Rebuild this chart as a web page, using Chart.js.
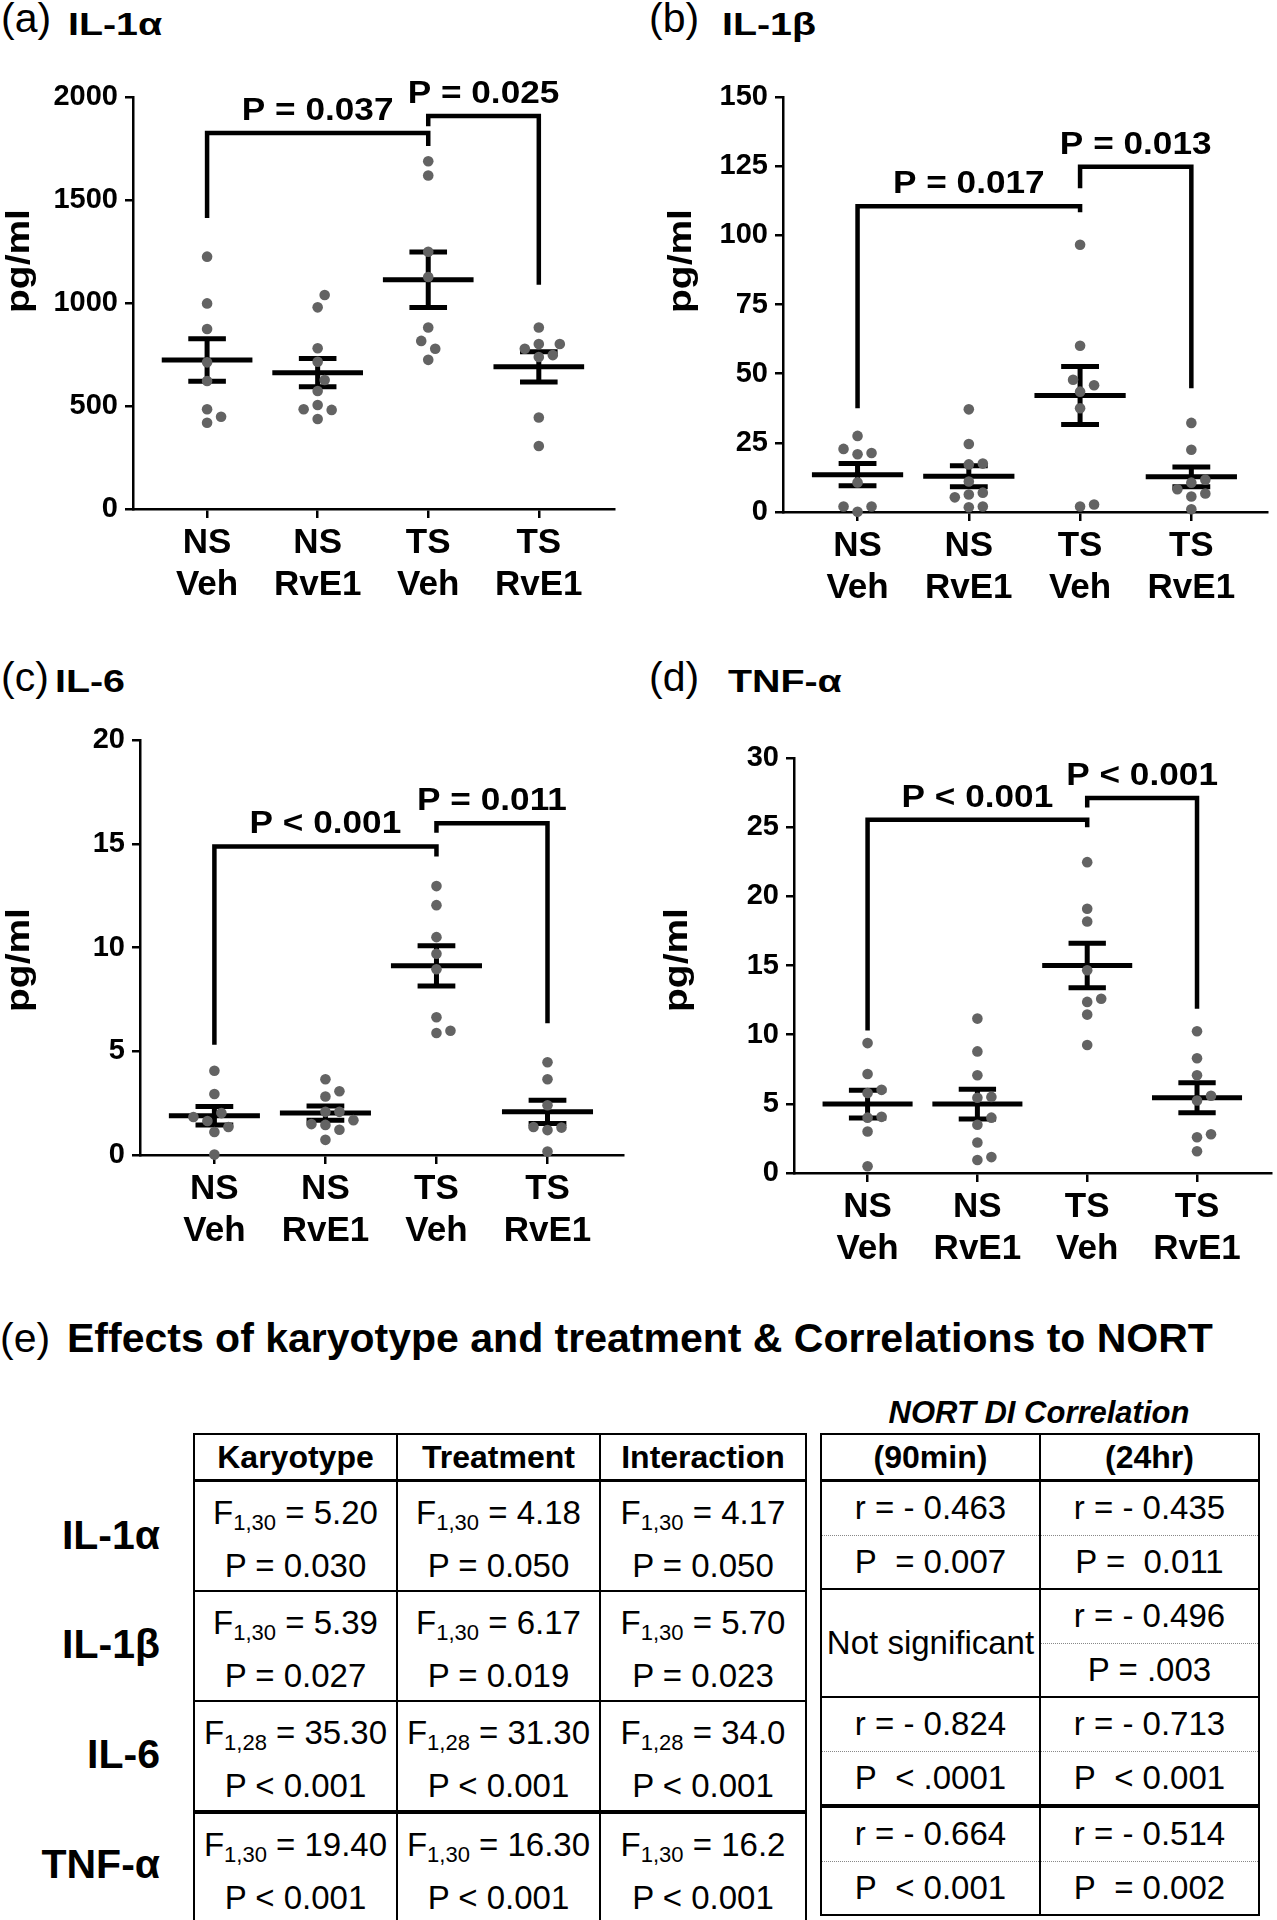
<!DOCTYPE html>
<html>
<head>
<meta charset="utf-8">
<script src="https://cdn.jsdelivr.net/npm/chart.js@4.4.1/dist/chart.umd.min.js"></script>
<style>
  body { margin: 0; width: 1277px; height: 1920px; position: relative; background: #fff; overflow: hidden;
         font-family: 'Liberation Sans', Arial, Helvetica, sans-serif; color: #000; }
  canvas { position: absolute; }
  .t { position: absolute; white-space: nowrap; line-height: 1; transform-origin: 0 0; }
  .lab { font-size: 41px; }
  .name { font-size: 32px; font-weight: bold; transform: scaleX(1.23); }
  .rl { position: absolute; right: 1117px; white-space: nowrap; line-height: 1; font-size: 41px; font-weight: bold; }
  table { position: absolute; border-collapse: collapse; border: 2.5px solid #000; }
  th, td { border: 2px solid #000; padding: 0; text-align: center; white-space: nowrap; }
  th { font-size: 32px; font-weight: bold; height: 44px; border-bottom: 3px solid #000; }
  #tl td { vertical-align: top; font-size: 33px; height: 105px; }
  #tl td div { line-height: 49px; }
  #tl td div:first-child { padding-top: 6px; }
  .sb { font-size: 22px; position: relative; top: 6px; }
  #tr td { font-size: 33px; height: 52.5px; line-height: 52px; vertical-align: middle; }
  #tr tr.u td { border-bottom: 1px dotted #888; }
  #tr tr.l td { border-top: 1px dotted #888; }
  #tr td.ns { border-bottom: 2px solid #000; }
  tr.thick td { border-top: 4px solid #000 !important; }
</style>
</head>
<body>

<!-- panel titles -->
<div class="t lab" style="left:1px; top:-2px;">(a)</div>
<div class="t name" style="left:68px; top:8px;">IL-1α</div>
<div class="t lab" style="left:649px; top:-2px;">(b)</div>
<div class="t name" style="left:722px; top:8px;">IL-1β</div>
<div class="t lab" style="left:1px; top:657px;">(c)</div>
<div class="t name" style="left:55px; top:665px;">IL-6</div>
<div class="t lab" style="left:649px; top:657px;">(d)</div>
<div class="t name" style="left:728px; top:665px;">TNF-α</div>

<canvas id="chartA" width="640" height="640" style="left:0; top:0;"></canvas>
<canvas id="chartB" width="637" height="640" style="left:640px; top:0;"></canvas>
<canvas id="chartC" width="640" height="640" style="left:0; top:650px;"></canvas>
<canvas id="chartD" width="637" height="640" style="left:640px; top:650px;"></canvas>

<!-- (e) table -->
<div class="t" style="left:0; top:1318px; font-size:41px;">(e)</div>
<div class="t" style="left:67px; top:1318px; font-size:41px; font-weight:bold;">Effects of karyotype and treatment &amp; Correlations to NORT</div>
<div class="t" style="left:820px; width:438px; text-align:center; top:1397px; font-size:31px; font-weight:bold; font-style:italic;">NORT DI Correlation</div>

<div class="rl" style="top:1515px;">IL-1α</div>
<div class="rl" style="top:1624px;">IL-1β</div>
<div class="rl" style="top:1734px;">IL-6</div>
<div class="rl" style="top:1844px;">TNF-α</div>

<table id="tl" style="left:193px; top:1433px;">
  <colgroup><col style="width:203px"><col style="width:203px"><col style="width:206px"></colgroup>
  <tr><th>Karyotype</th><th>Treatment</th><th>Interaction</th></tr>
  <tr>
    <td><div>F<span class="sb">1,30</span> = 5.20</div><div>P = 0.030</div></td>
    <td><div>F<span class="sb">1,30</span> = 4.18</div><div>P = 0.050</div></td>
    <td><div>F<span class="sb">1,30</span> = 4.17</div><div>P = 0.050</div></td>
  </tr>
  <tr>
    <td><div>F<span class="sb">1,30</span> = 5.39</div><div>P = 0.027</div></td>
    <td><div>F<span class="sb">1,30</span> = 6.17</div><div>P = 0.019</div></td>
    <td><div>F<span class="sb">1,30</span> = 5.70</div><div>P = 0.023</div></td>
  </tr>
  <tr>
    <td><div>F<span class="sb">1,28</span> = 35.30</div><div>P &lt; 0.001</div></td>
    <td><div>F<span class="sb">1,28</span> = 31.30</div><div>P &lt; 0.001</div></td>
    <td><div>F<span class="sb">1,28</span> = 34.0</div><div>P &lt; 0.001</div></td>
  </tr>
  <tr class="thick">
    <td><div>F<span class="sb">1,30</span> = 19.40</div><div>P &lt; 0.001</div></td>
    <td><div>F<span class="sb">1,30</span> = 16.30</div><div>P &lt; 0.001</div></td>
    <td><div>F<span class="sb">1,30</span> = 16.2</div><div>P &lt; 0.001</div></td>
  </tr>
</table>

<table id="tr" style="left:820px; top:1433px;">
  <colgroup><col style="width:219px"><col style="width:219px"></colgroup>
  <tr><th>(90min)</th><th>(24hr)</th></tr>
  <tr class="u"><td>r = - 0.463</td><td>r = - 0.435</td></tr>
  <tr class="l"><td>P&nbsp; = 0.007</td><td>P =&nbsp; 0.011</td></tr>
  <tr class="u"><td rowspan="2" class="ns">Not significant</td><td>r = - 0.496</td></tr>
  <tr class="l"><td>P = .003</td></tr>
  <tr class="u"><td>r = - 0.824</td><td>r = - 0.713</td></tr>
  <tr class="l"><td>P&nbsp; &lt; .0001</td><td>P&nbsp; &lt; 0.001</td></tr>
  <tr class="u thick"><td>r = - 0.664</td><td>r = - 0.514</td></tr>
  <tr class="l"><td>P&nbsp; &lt; 0.001</td><td>P&nbsp; = 0.002</td></tr>
</table>

<script>
// Group labels on the x-axis
const groupLabels = [['NS', 'Veh'], ['NS', 'RvE1'], ['TS', 'Veh'], ['TS', 'RvE1']];
// Brackets compare NS Veh vs TS Veh, then TS Veh vs TS RvE1
const bracketPairs = [[1, 3], [3, 4]];

// (a) IL-1α, pg/ml
const il1aNSVeh = [1225, 998, 874, 712, 621, 484, 448, 419];
const il1aNSRvE1 = [1039, 979, 780, 715, 626, 573, 505, 484, 481, 437];
const il1aTSVeh = [1688, 1619, 1249, 1126, 881, 816, 778, 724];
const il1aTSRvE1 = [881, 801, 801, 778, 747, 738, 444, 306];
const il1aMean = [723, 662, 1113, 690];
const il1aSem = [103, 68, 135, 73];
const il1aTicks = [0, 500, 1000, 1500, 2000];
const il1aP = ['P = 0.037', 'P = 0.025'];
const il1aBracketTop = [1825, 1908];
const il1aBracketLegs = [[1413, 1762], [1858, 1088]];

// (b) IL-1β, pg/ml
const il1bNSVeh = [27.5, 22.8, 21.3, 20.9, 10.7, 2.0, 2.0, 0.1];
const il1bNSRvE1 = [37.1, 24.6, 17.5, 17.2, 11.0, 7.0, 6.3, 5.3, 2.0, 1.7];
const il1bTSVeh = [96.6, 60.1, 47.8, 45.8, 43.5, 37.5, 2.7, 2.0];
const il1bTSRvE1 = [32.2, 22.5, 11.7, 10.6, 8.2, 6.7, 5.6, 1.0];
const il1bMean = [13.5, 12.9, 42.1, 12.7];
const il1bSem = [4.0, 3.8, 10.5, 3.6];
const il1bTicks = [0, 25, 50, 75, 100, 125, 150];
const il1bP = ['P = 0.017', 'P = 0.013'];
const il1bBracketTop = [110.5, 124.8];
const il1bBracketLegs = [[37.5, 108.3], [117, 44.7]];

// (c) IL-6, pg/ml
const il6NSVeh = [4.06, 2.94, 2.02, 1.83, 1.64, 1.35, 1.11, 0.02];
const il6NSRvE1 = [3.65, 3.07, 2.82, 2.08, 2.08, 1.68, 1.49, 1.45, 1.22, 0.73];
const il6TSVeh = [12.96, 12.04, 10.5, 9.7, 8.95, 6.64, 5.99, 5.88];
const il6TSRvE1 = [4.47, 3.65, 2.4, 1.35, 1.32, 1.2, 0.17];
const il6Mean = [1.89, 2.02, 9.12, 2.08];
const il6Sem = [0.45, 0.34, 0.97, 0.56];
const il6Ticks = [0, 5, 10, 15, 20];
const il6P = ['P < 0.001', 'P = 0.011'];
const il6BracketTop = [14.87, 15.99];
const il6BracketLegs = [[5.31, 14.39], [15.53, 6.35]];

// (d) TNF-α, pg/ml
const tnfNSVeh = [9.39, 7.16, 6.01, 5.78, 4.06, 4.0, 3.0, 0.49];
const tnfNSRvE1 = [11.16, 8.79, 7.07, 5.5, 5.44, 4.0, 3.49, 2.2, 1.15, 0.94];
const tnfTSVeh = [22.47, 19.1, 18.18, 14.66, 12.6, 12.37, 11.45, 9.25];
const tnfTSRvE1 = [10.25, 8.3, 7.07, 5.58, 5.24, 2.8, 2.58, 1.57];
const tnfMean = [4.98, 4.98, 15.0, 5.44];
const tnfSem = [1.0, 1.07, 1.6, 1.09];
const tnfTicks = [0, 5, 10, 15, 20, 25, 30];
const tnfP = ['P < 0.001', 'P < 0.001'];
const tnfBracketTop = [25.53, 27.1];
const tnfBracketLegs = [[10.3, 24.99], [26.42, 11.88]];

Chart.defaults.font.family = "'Liberation Sans', Arial, Helvetica, sans-serif";
Chart.defaults.color = '#000';

// Spread points with close values sideways (pixel based beeswarm)
function swarmOffsets(values, toPy, step, minDist) {
    const order = values.map((v, i) => i).sort((a, b) => values[a] - values[b]);
    const placed = [];
    const off = new Array(values.length).fill(0);
    order.forEach(i => {
        const py = toPy(values[i]);
        for (let k = 0; k < 40; k++) {
            const dx = k === 0 ? 0 : (k % 2 ? 1 : -1) * Math.ceil(k / 2) * step;
            if (placed.every(p => Math.hypot(p.dx - dx, p.py - py) >= minDist)) {
                off[i] = dx;
                placed.push({ dx: dx, py: py });
                break;
            }
        }
    });
    return off;
}

function makePanel(id, p) {
    const canvas = document.getElementById(id);
    const W = canvas.width, H = canvas.height;
    const a = p.area;

    const points = [];
    p.groups.forEach((vals, g) => vals.forEach(v => points.push({ x: g + 1, y: v })));

    // mean line with SEM whiskers, drawn under the dots
    const meanBars = {
        id: 'meanBars',
        beforeDatasetsDraw(chart) {
            const { ctx, scales: { x, y } } = chart;
            ctx.save();
            ctx.strokeStyle = '#000';
            ctx.lineWidth = 5;
            p.mean.forEach((m, i) => {
                const cx = x.getPixelForValue(i + 1);
                const hw = x.getPixelForValue(i + 1.41) - cx;
                const cw = x.getPixelForValue(i + 1.17) - cx;
                const ym = y.getPixelForValue(m);
                const yt = y.getPixelForValue(m + p.sem[i]);
                const yb = y.getPixelForValue(m - p.sem[i]);
                ctx.beginPath();
                ctx.moveTo(cx - hw, ym); ctx.lineTo(cx + hw, ym);
                ctx.moveTo(cx, yt); ctx.lineTo(cx, yb);
                ctx.moveTo(cx - cw, yt); ctx.lineTo(cx + cw, yt);
                ctx.moveTo(cx - cw, yb); ctx.lineTo(cx + cw, yb);
                ctx.stroke();
            });
            ctx.restore();
        }
    };

    // significance brackets, their P labels and the y-axis title
    const brackets = {
        id: 'brackets',
        afterDraw(chart) {
            const { ctx, scales: { x, y } } = chart;
            ctx.save();
            ctx.strokeStyle = '#000';
            ctx.fillStyle = '#000';
            ctx.lineWidth = 4.5;
            ctx.lineJoin = 'miter';
            bracketPairs.forEach((pair, i) => {
                const x1 = x.getPixelForValue(pair[0]);
                const x2 = x.getPixelForValue(pair[1]);
                const yTop = y.getPixelForValue(p.bracketTop[i]);
                ctx.beginPath();
                ctx.moveTo(x1, y.getPixelForValue(p.bracketLegs[i][0]));
                ctx.lineTo(x1, yTop);
                ctx.lineTo(x2, yTop);
                ctx.lineTo(x2, y.getPixelForValue(p.bracketLegs[i][1]));
                ctx.stroke();
                ctx.save();
                ctx.translate((x1 + x2) / 2, yTop - 13);
                ctx.scale(1.1, 1);
                ctx.font = "bold 32px 'Liberation Sans', Arial, sans-serif";
                ctx.textAlign = 'center';
                ctx.textBaseline = 'alphabetic';
                ctx.fillText(p.pLabels[i], 0, 0);
                ctx.restore();
            });
            ctx.translate(p.yTitle.x, p.yTitle.y);
            ctx.rotate(-Math.PI / 2);
            ctx.scale(1.18, 1);
            ctx.font = "bold 33px 'Liberation Sans', Arial, sans-serif";
            ctx.textAlign = 'center';
            ctx.textBaseline = 'middle';
            ctx.fillText('pg/ml', 0, 0);
            ctx.restore();
        }
    };

    const axisGrid = (len) => ({
        display: true,
        drawOnChartArea: false,
        drawTicks: true,
        tickLength: len,
        color: '#000',
        lineWidth: 2.5
    });

    const chart = new Chart(canvas.getContext('2d'), {
        type: 'scatter',
        data: {
            datasets: [{
                data: points,
                backgroundColor: '#636363',
                borderWidth: 0,
                pointRadius: 5.3,
                pointHoverRadius: 5.3,
                clip: false
            }]
        },
        options: {
            responsive: false,
            animation: false,
            devicePixelRatio: 1,
            layout: { padding: { left: 0, top: a.top, right: W - a.right, bottom: 0 } },
            plugins: { legend: { display: false }, tooltip: { enabled: false } },
            events: [],
            scales: {
                x: {
                    type: 'linear',
                    min: 0.33,
                    max: 4.68,
                    afterBuildTicks: s => { s.ticks = [1, 2, 3, 4].map(v => ({ value: v })); },
                    afterFit: s => { s.height = H - a.bottom; },
                    ticks: {
                        autoSkip: false,
                        maxRotation: 0,
                        padding: 4,
                        font: { size: 35, weight: 'bold', lineHeight: 1.2 },
                        callback: v => groupLabels[v - 1]
                    },
                    grid: axisGrid(9),
                    border: { display: true, color: '#000', width: 2.5 }
                },
                y: {
                    min: p.ticks[0],
                    max: p.ticks[p.ticks.length - 1],
                    afterBuildTicks: s => { s.ticks = p.ticks.map(v => ({ value: v })); },
                    afterFit: s => { s.width = a.left; },
                    ticks: { padding: 7, font: { size: 29, weight: 'bold' }, callback: v => String(v) },
                    grid: axisGrid(8),
                    border: { display: true, color: '#000', width: 2.5 }
                }
            }
        },
        plugins: [meanBars, brackets]
    });

    // place dots side by side where they would overlap
    const xs = chart.scales.x, ys = chart.scales.y;
    const pxPerGroup = xs.getPixelForValue(2) - xs.getPixelForValue(1);
    const spread = [];
    p.groups.forEach((vals, g) => {
        const off = swarmOffsets(vals, v => ys.getPixelForValue(v), 7, 12.5);
        vals.forEach((v, i) => spread.push({ x: g + 1 + off[i] / pxPerGroup, y: v }));
    });
    chart.data.datasets[0].data = spread;
    chart.update('none');
    return chart;
}

makePanel('chartA', {
    groups: [il1aNSVeh, il1aNSRvE1, il1aTSVeh, il1aTSRvE1],
    mean: il1aMean, sem: il1aSem, ticks: il1aTicks,
    pLabels: il1aP, bracketTop: il1aBracketTop, bracketLegs: il1aBracketLegs,
    area: { left: 133, right: 614, top: 97, bottom: 509 },
    yTitle: { x: 20, y: 261 }
});
makePanel('chartB', {
    groups: [il1bNSVeh, il1bNSRvE1, il1bTSVeh, il1bTSRvE1],
    mean: il1bMean, sem: il1bSem, ticks: il1bTicks,
    pLabels: il1bP, bracketTop: il1bBracketTop, bracketLegs: il1bBracketLegs,
    area: { left: 143, right: 627, top: 97, bottom: 512 },
    yTitle: { x: 42, y: 261 }
});
makePanel('chartC', {
    groups: [il6NSVeh, il6NSRvE1, il6TSVeh, il6TSRvE1],
    mean: il6Mean, sem: il6Sem, ticks: il6Ticks,
    pLabels: il6P, bracketTop: il6BracketTop, bracketLegs: il6BracketLegs,
    area: { left: 140, right: 623, top: 90, bottom: 505 },
    yTitle: { x: 20, y: 310 }
});
makePanel('chartD', {
    groups: [tnfNSVeh, tnfNSRvE1, tnfTSVeh, tnfTSRvE1],
    mean: tnfMean, sem: tnfSem, ticks: tnfTicks,
    pLabels: tnfP, bracketTop: tnfBracketTop, bracketLegs: tnfBracketLegs,
    area: { left: 154, right: 635, top: 108, bottom: 523 },
    yTitle: { x: 38, y: 310 }
});
</script>
</body>
</html>
